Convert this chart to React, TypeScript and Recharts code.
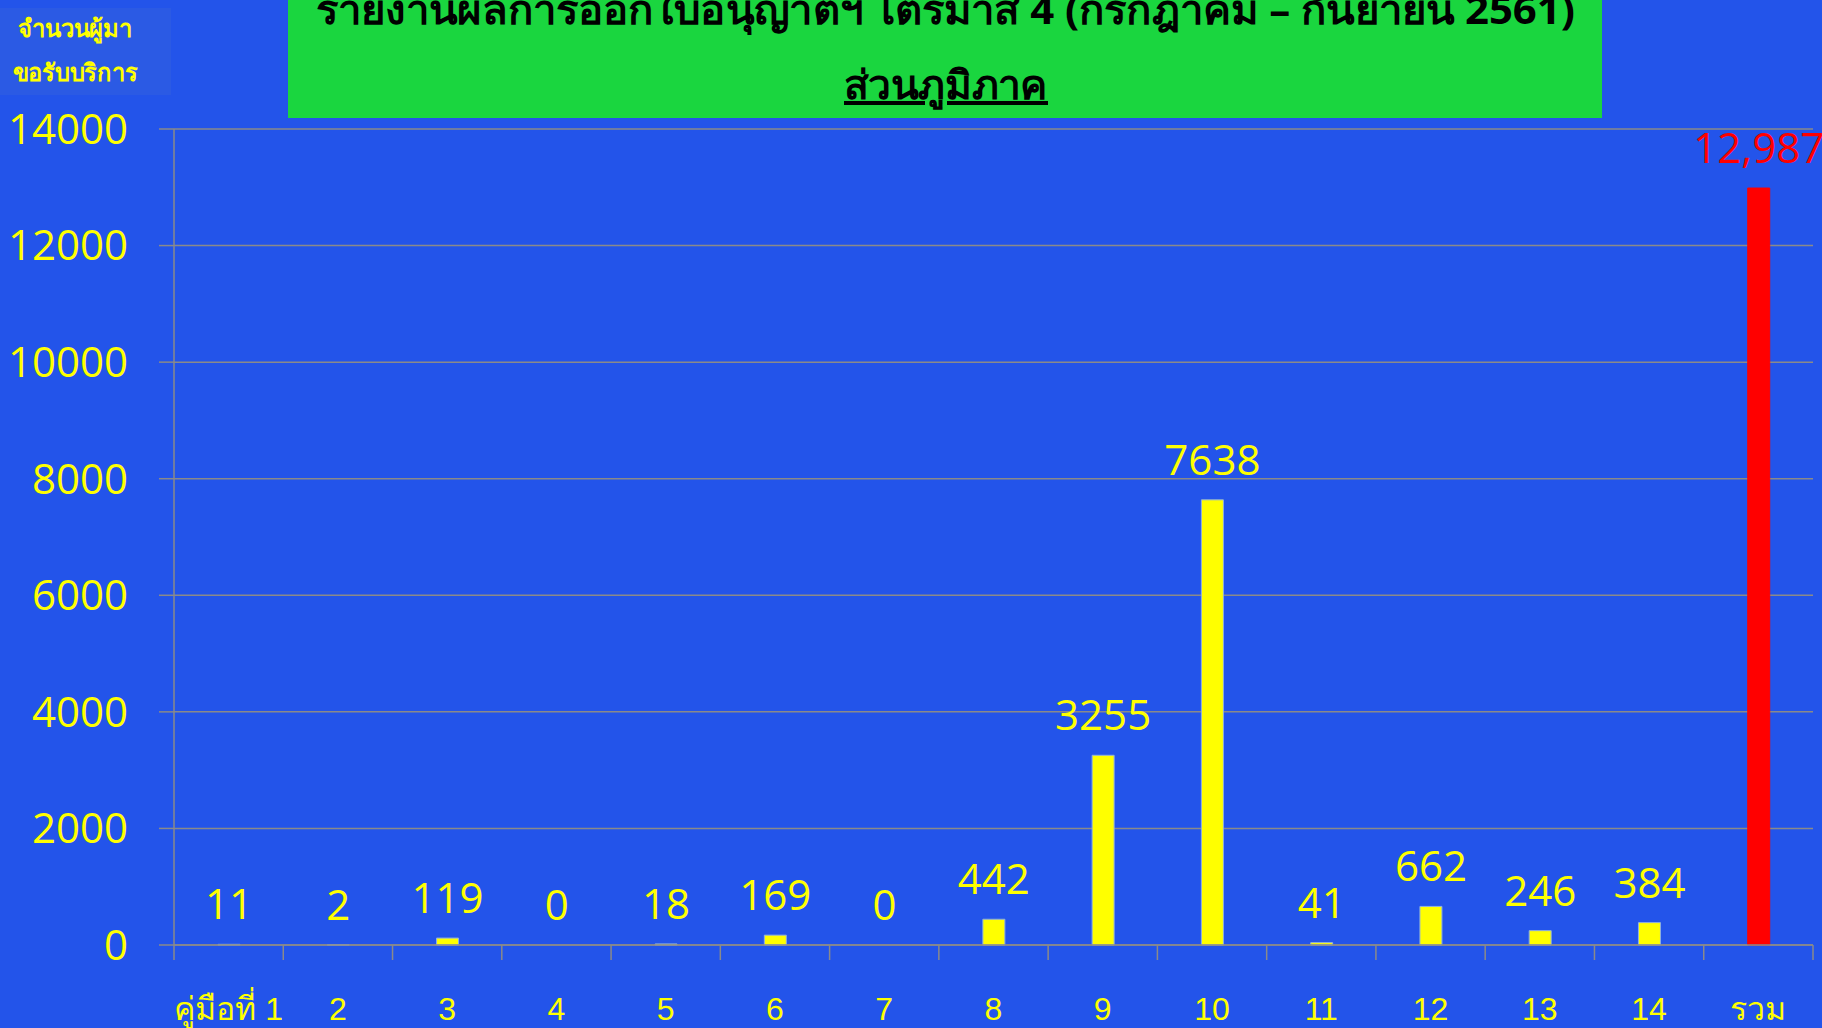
import { BarChart, Bar, XAxis, YAxis, CartesianGrid, LabelList, Cell } from 'recharts'

// คู่มือที่ 1-14 + รวม
const categories = ['คู่มือที่ 1', '2', '3', '4', '5', '6', '7', '8', '9', '10', '11', '12', '13', '14', 'รวม']
const values = [11, 2, 119, 0, 18, 169, 0, 442, 3255, 7638, 41, 662, 246, 384, 12987]
const yTicks = [0, 2000, 4000, 6000, 8000, 10000, 12000, 14000]

const titleLine1 = 'รายงานผลการออกใบอนุญาตฯ ไตรมาส 4 (กรกฎาคม – กันยายน 2561)'
const titleLine2 = 'ส่วนภูมิภาค'
const yLabelLines = ['จำนวนผู้มา', 'ขอรับบริการ']

const BG = '#2354ea'
const YELLOW = '#ffff00'
const RED = '#ff0000'
const GRID = '#8a8a8a'
const NUM_FONT = "'Open Sans', sans-serif"
const THAI_FONT = "'Noto Sans', 'DejaVu Sans', sans-serif"
const X_TICK_SIZE = 15
const X_TICK_MARGIN = 37

const totalIndex = categories.length - 1
const data = categories.map((name, i) => ({ name, value: values[i] }))

function ValueLabel (props: any) {
  const { x, y, width, value } = props
  const isTotal = value === values[totalIndex]
  return (
    <text
      x={Number(x) + Number(width) / 2}
      y={Number(y) - 25}
      textAnchor="middle"
      fill={isTotal ? RED : YELLOW}
      fontSize={42}
      fontFamily={NUM_FONT}
    >
      {isTotal ? Number(value).toLocaleString('en-US') : value}
    </text>
  )
}

// category label + tick marks on the category boundaries (like the PowerPoint axis)
function CategoryTick (props: any) {
  const { x, y, payload, width, visibleTicksCount, index } = props
  const band = Number(width) / Number(visibleTicksCount)
  const axisY = Number(y) - X_TICK_SIZE - X_TICK_MARGIN
  const left = Number(x) - band / 2
  const hasBand = Number.isFinite(band)
  return (
    <g>
      {hasBand && (
        <line x1={left} x2={left} y1={axisY} y2={axisY + X_TICK_SIZE} stroke={GRID} strokeWidth={1.5} />
      )}
      {hasBand && index === visibleTicksCount - 1 && (
        <line x1={left + band} x2={left + band} y1={axisY} y2={axisY + X_TICK_SIZE} stroke={GRID} strokeWidth={1.5} />
      )}
      <text
        x={x}
        y={y}
        dy="0.71em"
        textAnchor="middle"
        fill={YELLOW}
        fontSize={32}
        fontFamily="'Liberation Sans Narrow', 'Liberation Sans', sans-serif"
      >
        {payload.value}
      </text>
    </g>
  )
}

export default function App () {
  return (
    <div style={{ position: 'absolute', left: 0, top: 0, width: 1822, height: 1028, background: BG, overflow: 'hidden' }}>
      <BarChart
        width={1822}
        height={1028}
        data={data}
        margin={{ top: 129, right: 9, bottom: 82, left: 0 }}
      >
        <CartesianGrid horizontal vertical={false} stroke={GRID} strokeWidth={1.5} />
        <XAxis
          dataKey="name"
          height={1}
          interval={0}
          tickLine={false}
          tickSize={X_TICK_SIZE}
          tickMargin={X_TICK_MARGIN}
          stroke={GRID}
          strokeWidth={1.5}
          tick={<CategoryTick />}
        />
        <YAxis
          domain={[0, 14000]}
          ticks={yTicks}
          interval={0}
          width={174}
          tickSize={15}
          tickMargin={31}
          stroke={GRID}
          strokeWidth={1.5}
          tick={{ fill: YELLOW, fontSize: 42, fontFamily: NUM_FONT }}
        />
        <Bar
          dataKey="value"
          barSize={22}
          minPointSize={(v: number) => (v === 0 ? 0.01 : 0)}
          isAnimationActive={false}
        >
          {data.map((d, i) => (
            <Cell
              key={d.name}
              fill={d.value === 0 ? 'none' : i === totalIndex ? RED : YELLOW}
              stroke={d.value === 0 ? 'none' : i === totalIndex ? RED : '#8fb0e0'}
              strokeWidth={1}
            />
          ))}
          <LabelList dataKey="value" content={ValueLabel} />
        </Bar>
      </BarChart>

      <svg width={1822} height={1028} style={{ position: 'absolute', left: 0, top: 0, pointerEvents: 'none' }}>
        <rect x={0} y={8} width={171} height={87} fill="#2b5ae4" />
        <text x={75} y={37} textAnchor="middle" fill={YELLOW} fontSize={24} fontWeight="bold" fontFamily={THAI_FONT} textLength={114} lengthAdjust="spacingAndGlyphs">
          {yLabelLines[0]}
        </text>
        <text x={75} y={81} textAnchor="middle" fill={YELLOW} fontSize={24} fontWeight="bold" fontFamily={THAI_FONT} textLength={125} lengthAdjust="spacingAndGlyphs">
          {yLabelLines[1]}
        </text>

        <rect x={288} y={-2} width={1314} height={120} fill="#1ad63f" />
        <text x={316} y={24} fill="#000" fontSize={40} fontWeight="bold" fontFamily={THAI_FONT} textLength={1259} lengthAdjust="spacingAndGlyphs">
          {titleLine1}
        </text>
        <text
          x={946}
          y={99}
          textAnchor="middle"
          fill="#000"
          fontSize={40}
          fontWeight="bold"
          fontFamily={THAI_FONT}
          textLength={204}
          lengthAdjust="spacingAndGlyphs"
          style={{ textDecoration: 'underline' }}
        >
          {titleLine2}
        </text>
      </svg>
    </div>
  )
}
